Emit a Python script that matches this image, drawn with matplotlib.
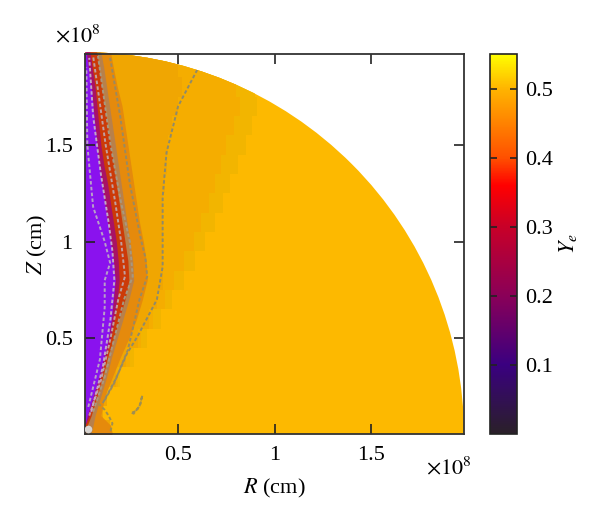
import numpy as np
import matplotlib
matplotlib.use("Agg")
import matplotlib.pyplot as plt
from matplotlib.colors import LinearSegmentedColormap, Normalize
from matplotlib.cm import ScalarMappable
from matplotlib.patches import Circle

plt.rcParams['font.family'] = ['Liberation Serif', 'DejaVu Serif']
plt.rcParams['mathtext.fontset'] = 'stix'

# heights the boundaries are read at (1e8 cm)
z = [0.005, 0.05, 0.1, 0.2, 0.3, 0.4, 0.5, 0.6, 0.7, 0.8, 0.9, 1.0, 1.1, 1.2, 1.3, 1.4, 1.5, 1.6, 1.7, 1.8, 1.9, 1.98]

# band edges in R (1e8 cm), inner to outer
purple_edge = [0.018, 0.018, 0.03, 0.06, 0.09, 0.115, 0.14, 0.155, 0.165, 0.175, 0.165, 0.15, 0.135, 0.12, 0.105, 0.09, 0.08, 0.07, 0.06, 0.05, 0.035, 0.025]
magenta_edge = [0.018, 0.018, 0.04, 0.07, 0.10, 0.125, 0.15, 0.17, 0.185, 0.195, 0.19, 0.18, 0.165, 0.15, 0.135, 0.115, 0.10, 0.09, 0.08, 0.07, 0.055, 0.045]
red_edge = [0.02, 0.03, 0.05, 0.08, 0.11, 0.135, 0.165, 0.195, 0.225, 0.245, 0.24, 0.225, 0.21, 0.195, 0.18, 0.165, 0.15, 0.135, 0.12, 0.105, 0.09, 0.08]
grey_edge = [0.05, 0.06, 0.07, 0.10, 0.13, 0.155, 0.185, 0.215, 0.245, 0.27, 0.265, 0.25, 0.235, 0.22, 0.205, 0.19, 0.175, 0.16, 0.145, 0.13, 0.115, 0.10]
orange_edge = [0.16, 0.15, 0.10, 0.12, 0.16, 0.20, 0.245, 0.285, 0.315, 0.34, 0.335, 0.32, 0.30, 0.285, 0.27, 0.255, 0.24, 0.225, 0.21, 0.185, 0.165, 0.15]
amber_edge = [0.16, 0.15, 0.11, 0.13, 0.18, 0.23, 0.29, 0.35, 0.39, 0.42, 0.42, 0.42, 0.42, 0.42, 0.43, 0.44, 0.45, 0.47, 0.50, 0.52, 0.50, 0.46]
warm_edge = [0.16, 0.15, 0.11, 0.13, 0.19, 0.25, 0.31, 0.37, 0.43, 0.48, 0.53, 0.58, 0.62, 0.66, 0.69, 0.72, 0.75, 0.79, 0.82, 0.80, 0.75, 0.70]
gold_edge = [0.16, 0.15, 0.11, 0.13, 0.20, 0.27, 0.34, 0.41, 0.47, 0.53, 0.59, 0.64, 0.69, 0.73, 0.77, 0.81, 0.85, 0.88, 0.91, 0.90, 0.85, 0.80]
band_edges = [gold_edge, warm_edge, amber_edge, orange_edge, grey_edge, red_edge, magenta_edge, purple_edge]
band_colors = ['#f2b500', '#f5ad00', '#f0a602', '#e58a0c', '#b8804a', '#cc3a08', '#a81266', '#8a12ee']
band_steps = ['mid', 'mid', 'mid', None, None, None, None, None]
base_color = '#fdb900'

# dashed contours (R, Z)
outer_r = [0.11, 0.175, 0.235, 0.29, 0.39, 0.42, 0.42, 0.42, 0.44, 0.50, 0.60]
outer_z = [0.165, 0.285, 0.42, 0.51, 0.70, 0.87, 1.01, 1.23, 1.46, 1.70, 1.89]
mid_r = [0.12, 0.17, 0.24, 0.30, 0.34, 0.33, 0.31, 0.25, 0.20, 0.148]
mid_z = [0.18, 0.27, 0.44, 0.70, 0.82, 0.92, 1.0, 1.3, 1.65, 1.95]
grey1_r = [0.06, 0.12, 0.17, 0.22, 0.265, 0.25, 0.205, 0.15, 0.115, 0.085]
grey1_z = [0.12, 0.30, 0.50, 0.70, 0.82, 1.0, 1.2, 1.5, 1.75, 1.96]
grey2_r = [0.04, 0.10, 0.15, 0.19, 0.225, 0.205, 0.175, 0.125, 0.09, 0.06]
grey2_z = [0.10, 0.28, 0.50, 0.70, 0.82, 1.0, 1.2, 1.5, 1.75, 1.96]
light1_r = [0.035, 0.095, 0.12, 0.12, 0.148, 0.12, 0.06, 0.03, 0.025]
light1_z = [0.145, 0.39, 0.66, 0.80, 0.89, 1.0, 1.18, 1.5, 1.9]
light2_r = [0.05, 0.11, 0.15, 0.17, 0.16, 0.14, 0.10, 0.06, 0.04]
light2_z = [0.12, 0.35, 0.60, 0.80, 0.95, 1.1, 1.35, 1.65, 1.95]
loop_r = [0.26, 0.27, 0.30, 0.315, 0.305, 0.285, 0.26]
loop_z = [0.115, 0.11, 0.15, 0.205, 0.16, 0.125, 0.115]
plume_r = [0.15, 0.16, 0.14, 0.12, 0.09]
plume_z = [0.02, 0.06, 0.10, 0.13, 0.16]

ye_pos = [0.0, 0.1, 0.2, 0.3, 0.36, 0.4, 0.5, 0.55]
ye_colors = ['#2a2028', '#3a0080', '#8a0058', '#c80028', '#ff0000', '#ff5000', '#ffb400', '#ffff00']

fig = plt.figure(figsize=(6, 5.2), dpi=100)
ax = fig.add_axes([85/600, 1-434/520, 379/600, 380/520])
clip = Circle((0, 0), 1.98, transform=ax.transData)

ax.add_patch(Circle((0, 0), 1.98, fc=base_color, ec='none'))
for edge, col, st in zip(band_edges, band_colors, band_steps):
    p = ax.fill_betweenx(z, 0.018, edge, color=col, lw=0, step=st)
    p.set_clip_path(clip)

for r_, z_, col in [(outer_r, outer_z, '#8f8a6a'), (mid_r, mid_z, '#9a8a60'), (grey1_r, grey1_z, '#a89880'),
                    (grey2_r, grey2_z, '#c0a0a0'), (light1_r, light1_z, '#b8a0c8'), (light2_r, light2_z, '#c0a8c8'),
                    (loop_r, loop_z, '#a08f50'), (plume_r, plume_z, '#a08f50')]:
    ax.plot(r_, z_, color=col, lw=1.4, ls=(0, (1.8, 1.2)), clip_path=clip)
ax.scatter([0.035], [0.03], s=30, color='#d8d4d0', lw=0, zorder=3)

ax.set_xlim(0.018, 1.98)
ax.set_ylim(0.005, 1.97)
ax.set_xticks([0.5, 1, 1.5])
ax.set_yticks([0.5, 1, 1.5])
ax.set_xticklabels(['0.5', '1', '1.5'])
ax.set_yticklabels(['0.5', '1', '1.5'])
ax.tick_params(direction='in', top=True, right=True, length=7, width=1.2, labelsize=16, color='#222222', pad=9)
for s in ax.spines.values():
    s.set_linewidth(1.3)
    s.set_color('#333333')
ax.set_xlabel('$R$ (cm)', fontsize=16, labelpad=8)
ax.set_ylabel('$Z$ (cm)', fontsize=16, labelpad=-3)

fig.text(55/600, 1-36/520, r'$\times10^8$', fontsize=16, va='center', ha='left')
fig.text(426/600, 1-468/520, r'$\times10^8$', fontsize=16, va='center', ha='left')

cax = fig.add_axes([490/600, 1-434/520, 27/600, 380/520])
cmap = LinearSegmentedColormap.from_list('ye', [(p/0.55, c) for p, c in zip(ye_pos, ye_colors)], N=512)
cb = fig.colorbar(ScalarMappable(Normalize(0, 0.55), cmap), cax=cax)
cb.set_ticks([0.1, 0.2, 0.3, 0.4, 0.5])
cb.set_ticklabels(['0.1', '0.2', '0.3', '0.4', '0.5'])
cax.tick_params(direction='in', left=True, right=True, length=5, width=1.2, labelsize=16, color='#222222', pad=6)
cb.outline.set_linewidth(1.2)
cb.outline.set_edgecolor('#222222')
cb.set_label('$Y_e$', fontsize=16, labelpad=3)

fig.savefig('out.png', dpi=100)
